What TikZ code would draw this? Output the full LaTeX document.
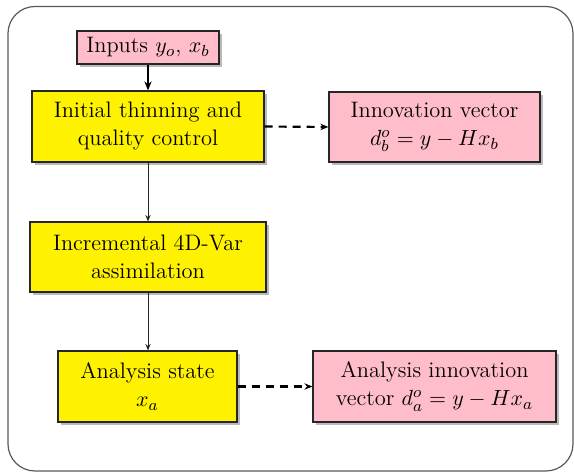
\documentclass[tikz,border=0pt]{standalone}
\usetikzlibrary{shadows,arrows.meta}
\definecolor{boxpink}{RGB}{255,188,201}
\begin{document}
\begin{tikzpicture}[x=0.5pt,y=-0.5pt,
  every node/.style={font=\fontsize{11.2}{14}\selectfont},
  box/.style={draw=black!85, line width=0.6pt, align=center, inner sep=0pt,
    drop shadow={shadow xshift=1.6pt, shadow yshift=-1.6pt, opacity=0.45, fill=black!60}},
  ybox/.style={box, fill=yellow},
  pbox/.style={box, fill=boxpink},
  flow/.style={draw=black!85, line width=0.5pt, -{Stealth[length=3.2pt,width=2.6pt]}},
  dflow/.style={draw=black, line width=1.1pt, dash pattern=on 4pt off 3pt, -{Stealth[length=4pt,width=3.2pt]}}
]
\useasboundingbox (0,0) rectangle (574,474);
\draw[black!65, line width=0.6pt, rounded corners=13.5pt] (8,6.5) rectangle (573,471);

\node[pbox, minimum width=71pt, minimum height=16.5pt] (inp) at (148,47.5) {Inputs $y_o$, $x_b$};
\node[ybox, minimum width=116pt, minimum height=35.5pt] (thin) at (148,126.5) {Initial thinning and\\quality control};
\node[pbox, minimum width=105.5pt, minimum height=35pt] (innov) at (434.5,127) {Innovation vector\\$d_b^o = y - Hx_b$};
\node[ybox, minimum width=118pt, minimum height=35pt] (var) at (148,257) {Incremental 4D-Var\\assimilation};
\node[ybox, minimum width=89.5pt, minimum height=35.5pt] (ana) at (147.5,386.5) {Analysis state\\$x_a$};
\node[pbox, minimum width=121.5pt, minimum height=35.5pt] (ainnov) at (434.5,386.5) {Analysis innovation\\vector $d_a^o = y - Hx_a$};

\draw[black, line width=1.3pt, -{Stealth[length=4.5pt,width=3.6pt]}] (inp) -- (thin);
\draw[flow] (thin) -- (var);
\draw[flow] (var) -- (ana.north -| var.south);
\draw[dflow] (thin.east) -- (innov.west);
\draw[dflow] (ana.east) -- (ainnov.west);
\end{tikzpicture}
\end{document}
